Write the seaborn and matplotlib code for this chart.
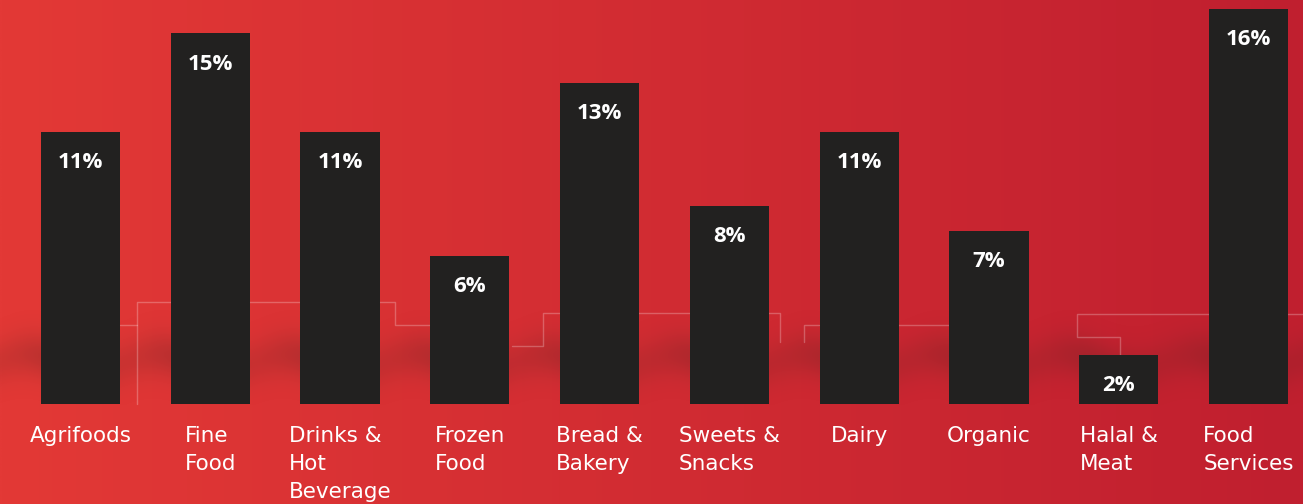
import matplotlib
matplotlib.use("Agg")
import matplotlib.pyplot as plt
import seaborn as sns
import numpy as np
import pandas as pd

# chart data
categories = ["Agrifoods", "Fine\nFood", "Drinks &\nHot\nBeverage", "Frozen\nFood",
              "Bread &\nBakery", "Sweets &\nSnacks", "Dairy", "Organic",
              "Halal &\nMeat", "Food\nServices"]
shares = [11, 15, 11, 6, 13, 8, 11, 7, 2, 16]
share_labels = [f"{v}%" for v in shares]

df = pd.DataFrame({"category": categories, "share": shares})

sns.set_theme(style="white")
plt.rcParams["font.family"] = ["DejaVu Sans"]

W, H = 1303, 504
fig = plt.figure(figsize=(W / 100, H / 100), dpi=100)

# background: red gradient, soft shadow band and faint outline steps
bg = fig.add_axes([0, 0, 1, 1], zorder=0)
bg.set_xlim(0, W)
bg.set_ylim(H, 0)
bg.axis("off")
left_c = np.array([227, 57, 54]) / 255
right_c = np.array([192, 31, 47]) / 255
t = np.linspace(0, 1, 400)[None, :, None]
grad = left_c * (1 - t) + right_c * t
grad = np.repeat(grad, 2, axis=0)
bg.imshow(grad, extent=(0, W, H, 0), aspect="auto", interpolation="bilinear")

xx, yy = np.meshgrid(np.arange(W), np.arange(H))
phase = 2 * np.pi * (xx - 60) / 129.7
centre = 362 + 8 * np.sin(phase)
alpha = 0.30 * np.exp(-((yy - centre) / 22.0) ** 2)
alpha *= 0.55 + 0.45 * np.cos(phase / 2) ** 2
alpha[yy > 404] = 0
shade = np.zeros((H, W, 4))
shade[..., 0] = 0.38
shade[..., 1] = 0.13
shade[..., 2] = 0.13
shade[..., 3] = alpha
bg.imshow(shade, extent=(0, W, H, 0), aspect="auto", interpolation="bilinear")

steps = [
    [(120, 325), (137, 325)],
    [(137, 404), (137, 302), (395, 302), (395, 325), (433, 325)],
    [(512, 346), (543, 346), (543, 313), (780, 313), (780, 342)],
    [(804, 342), (804, 325), (819, 325)],
    [(898, 325), (949, 325)],
    [(1120, 355), (1120, 337), (1077, 337), (1077, 314), (1303, 314)],
]
for seg in steps:
    xs, ys = zip(*seg)
    bg.plot(xs, ys, color="white", alpha=0.25, lw=1)

# main bar axes
ax = fig.add_axes([0, 100 / H, 1, 404 / H], zorder=1)
ax.set_facecolor("none")
sns.barplot(data=df, x="category", y="share", color="#222120", width=0.61,
            saturation=1, linewidth=0, edgecolor="#222120", ax=ax)
ax.set_ylim(0, 404 / 24.7)
ax.set_xlim(-0.62, 9.42)
for s in ax.spines.values():
    s.set_visible(False)
ax.set_yticks([])
ax.set_xlabel("")
ax.set_ylabel("")
ax.tick_params(axis="x", length=0, pad=16)
ax.set_xticks(range(len(categories)))
ax.set_xticklabels(categories, color="white", fontsize=15.5, ha="center",
                   va="top", multialignment="left", linespacing=1.5)

for i, (v, lab) in enumerate(zip(shares, share_labels)):
    ax.annotate(lab, (i, v), xytext=(0, -22), textcoords="offset points",
                ha="center", va="center", color="white", fontsize=16,
                fontweight="bold", family=["Open Sans", "DejaVu Sans"])

fig.savefig("out.png", dpi=100)
